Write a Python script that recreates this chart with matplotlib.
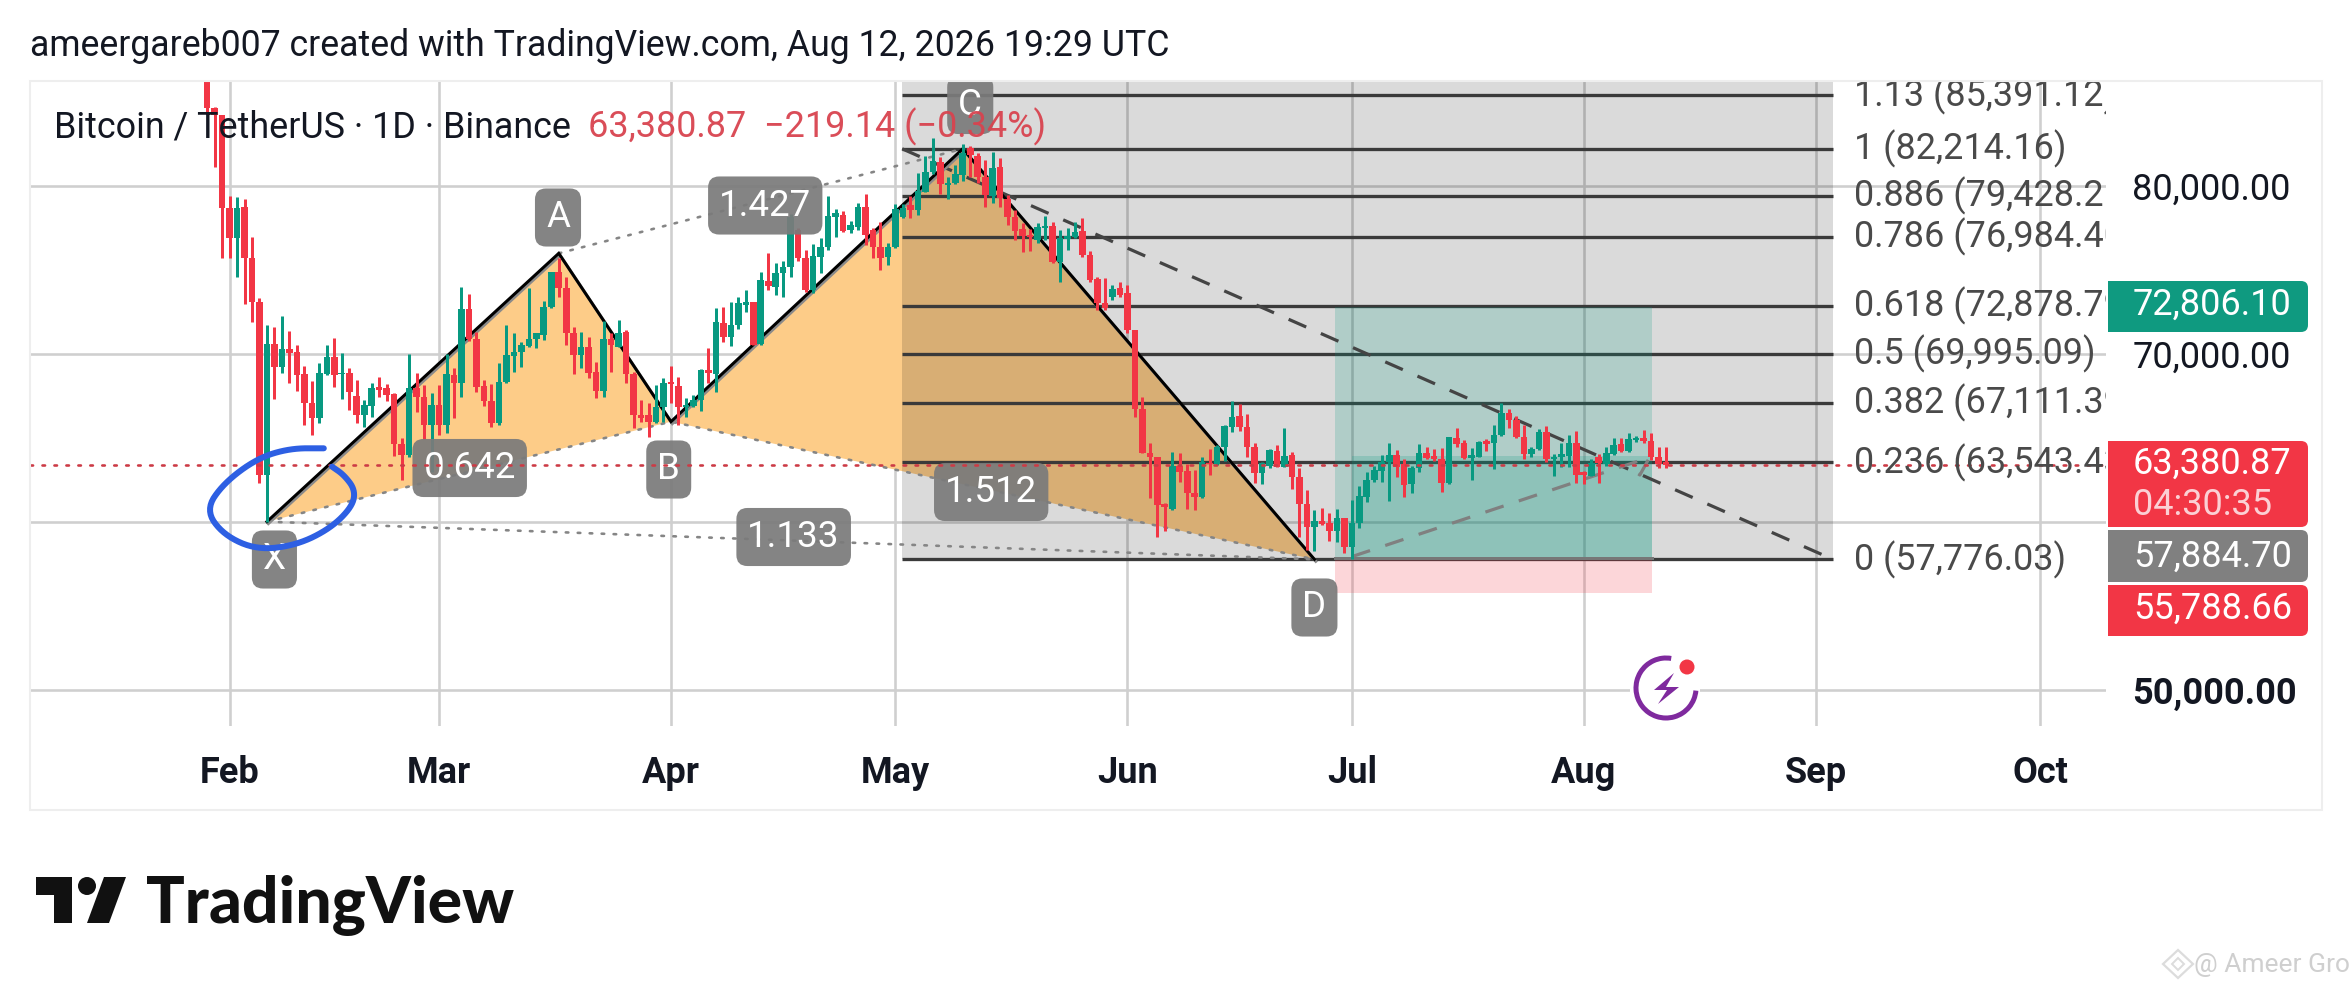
import matplotlib
matplotlib.use("Agg")
import matplotlib.pyplot as plt
import numpy as np
from matplotlib.patches import FancyBboxPatch, Rectangle, Polygon, Circle, Arc
from matplotlib.patheffects import SimpleLineShadow, Normal

plt.rcParams['font.family'] = ['Roboto', 'DejaVu Sans']

# ---- data: days counted from 1 Feb ----
days = list(range(-3, 193))
opens = [87500,84622,84226,78710,76924,78770,75734,73115,62798,70576,69246,70278,70139,68810,67064,66171,68810,69802,68810,68850,
67500,66370,66905,68016,67957,67619,64643,63989,67957,67421,65774,66965,65774,68750,68294,72659,70873,68096,67223,65874,
68354,69881,70139,70476,70873,71131,72778,74901,73909,71230,69941,70437,68949,67818,70873,70437,71330,68810,66370,66370,
65973,66866,68354,68096,66866,66905,67262,69048,68810,71865,71032,71726,72917,73115,70596,74365,74008,74802,75159,77381,
75695,73810,75794,76349,78174,78274,77381,77579,78730,77381,76389,75794,76349,78174,78869,78571,79663,80853,81448,80059,
80158,80654,82242,81785,80516,79404,81111,79206,78174,77421,77083,76786,77480,77619,75496,76825,76984,77341,75893,74445,
73016,73413,73909,73651,71429,66707,64088,63890,61072,60755,63334,63056,61707,61469,63533,63453,64445,65675,66310,65636,
64445,62897,63334,64247,63294,63989,62660,61072,59723,60080,59961,59485,60219,58533,59961,61509,62501,63056,63592,63989,
63453,62262,63195,64128,63929,63731,62302,64981,64723,63790,63890,64822,64683,65179,66508,66072,65040,64048,64326,65377,
63731,63890,63929,64723,62997,62739,63890,63453,64048,64643,64247,64881,64981,64842,63890,63600]
highs = [88000,84722,84226,79404,79325,79206,76984,73314,71726,71627,72262,71389,70536,69286,68393,69445,70536,70933,70080,69187,
68453,67262,68294,68651,68215,67699,64981,70000,68850,68155,67699,68155,70000,69187,74008,73552,71330,68453,68215,69484,
71726,71270,70734,73909,71270,73175,74901,75695,74603,71588,71330,70992,69544,71984,71230,72024,71429,68949,67262,67104,
68155,68552,69286,68651,67362,67560,69088,70338,72718,72818,73115,73413,73810,73115,74901,75992,75436,75556,78333,77480,
76190,76548,76885,79424,78611,78532,77936,78968,79524,77480,77877,76627,78928,78928,79404,80754,81785,82837,81706,80516,
81250,82500,82381,81944,81547,82043,81646,79464,78571,77778,77421,77817,78214,77877,77381,77480,77877,78075,76151,74564,
74504,74108,74306,74108,71429,67461,64722,63890,61112,64187,64128,63453,63096,63890,64326,64584,65774,67223,67024,66429,
64723,63592,64326,64584,65576,64187,63195,61905,60715,60815,60517,60755,60219,61310,62144,62997,63334,63989,64683,64286,
63731,63334,64643,64485,64326,64386,65080,65576,64881,64386,64822,64921,65774,67064,66707,66310,65774,64445,65516,65715,
64048,64683,65179,65437,63056,63731,64048,64485,64981,64981,65318,65120,65476,65318,64445,64445]
lows = [84400,81150,75734,75734,74603,72957,71925,62342,60021,67302,68889,68294,67818,65774,65179,65874,68750,68016,67302,66667,
65874,65636,66270,67461,67223,63929,62501,63890,66568,64921,62997,65179,65278,66171,67421,70794,67758,66905,65636,65774,
68294,68949,69207,70437,70338,70834,72718,73413,70536,68810,69147,68552,67362,67461,68949,70397,68254,65576,65973,65080,
65874,65973,67064,65774,66270,66866,66628,68254,67758,70734,70476,71468,72520,70536,70536,73810,73512,73373,74564,75556,
73710,73651,74841,76190,76984,77282,77183,77381,76488,75695,75000,75298,76290,78075,78075,78274,79663,80714,79524,79206,
80119,80317,80555,80158,78770,78968,78770,77678,76786,76091,76151,76587,76786,75397,74306,76190,76885,75794,74306,72619,
72619,73214,73413,71230,66230,64088,61409,59128,59485,60715,62401,60755,60715,61409,62798,63394,63651,65377,65437,63850,
62302,62262,63195,63255,63255,61945,59088,58334,58295,59822,58890,58830,58176,57778,59624,61211,62402,62402,61271,62699,
61509,61707,62997,63731,63652,61806,62262,64445,63731,62501,63850,64247,63136,65120,65576,64981,63731,63850,64286,63592,
62739,63255,63294,62302,62262,62739,62302,63334,63989,64187,64187,64782,64683,63691,63195,63195]
closes = [84622,84226,78710,76924,78710,75734,73115,62798,70576,69246,70278,70080,68750,67064,66171,68889,69802,68750,68889,67758,
66370,66965,67957,67858,67560,64643,63989,67957,67421,65774,66965,65774,68810,68294,72659,70873,68056,67223,65874,68354,
69941,70139,70536,70873,71230,72778,74901,73909,71230,69941,70437,68889,67818,70873,70536,71270,68810,66370,66171,65973,
66826,68294,68215,66866,66965,67262,69048,68889,71925,71032,71726,73016,73115,70536,74405,74048,74841,75159,78174,75695,
73810,75833,76389,78214,78373,77341,77678,78730,77083,76389,75695,76389,78611,78671,78571,79722,80853,81508,80119,80198,
80714,81944,81845,80516,79464,81051,79266,78174,77341,77024,76984,77579,77619,75496,76885,77024,77282,75893,74405,73016,
72718,73849,73512,71429,66707,64088,63850,61013,60913,63334,62997,61707,61469,63592,63453,64445,65715,66270,65636,64445,
62897,63533,64286,63294,63929,62660,61072,59723,60080,59882,59485,60219,58533,59961,61548,62501,63096,63592,63989,63294,
62203,63195,64128,63790,63731,62302,65040,64643,63790,63989,64782,64643,65179,66508,66072,65040,64048,64326,65377,63731,
63850,64029,64683,62798,62798,63533,63533,64088,64584,64247,64921,64981,64842,63850,63453,63380.87]

month_days = [0, 28, 59, 89, 120, 150, 181, 212, 242]
month_labels = ['Feb', 'Mar', 'Apr', 'May', 'Jun', 'Jul', 'Aug', 'Sep', 'Oct']
price_ticks = [50000, 60000, 70000, 80000]
price_tick_labels = ['50,000.00', '', '70,000.00', '80,000.00']

pattern_days = [5, 44, 59, 98, 145]          # X A B C D
pattern_prices = [60021, 75992, 65973, 82214, 57776]

fib_levels = ['1.13', '1', '0.886', '0.786', '0.618', '0.5', '0.382', '0.236', '0']
fib_prices = [85391.12, 82214.16, 79428.21, 76984.40, 72878.79, 69995.09, 67111.39, 63543.43, 57776.03]
fib_start, fib_end, fib_label_day = 89.9, 214.3, 217.1

last_price = 63380.87
entry, target, stop = 57884.70, 72806.10, 55788.66
pos_start, pos_end, pos_live_start = 147.75, 190.1, 150
pos_live_top = 63929
pos_dash_days = [150, 189.8, 188.5, 186.7]
pos_dash_prices = [57938, 63850, 62798, 63334]

tag_names = ['A', 'X', 'B', 'C', 'D', '1.427', '0.642', '1.512', '1.133']
tag_days = [43.9, 6.0, 58.7, 99, 145, 71.6, 32.1, 101.8, 75.4]
tag_prices = [78125, 57768, 63125, 84821, 54911, 78839, 63214, 61786, 59107]

ring_days = [12.6, 8.1, 3.7, -0.8, -3.2, -0.8, 3.7, 9.0, 13.5, 16.4, 16.8, 15.3, 13.7]
ring_prices = [64386, 64386, 63790, 62302, 60715, 59225, 58332, 58630, 59623, 60914, 61906, 62798, 63294]

GREEN, RED = '#089981', '#F23645'
W, H = 2352, 990
px = 72 / 100

fig = plt.figure(figsize=(W / 100, H / 100), dpi=100, facecolor='white')
L, R, T, B = 30, 2106, 81, 726
ax = fig.add_axes([L / W, 1 - B / H, (R - L) / W, (B - T) / H])
ax.set_xlim(-26.67, 250.8)
ax.set_ylim(47857, 86250)
for s in ax.spines.values():
    s.set_visible(False)
ax.set_xticks(month_days, month_labels)
ax.set_yticks(price_ticks, price_tick_labels)
ax.yaxis.tick_right()
ax.tick_params(axis='both', length=0)
ax.tick_params(axis='x', pad=21, labelsize=26)
ax.tick_params(axis='y', pad=19, labelsize=26)
for t in ax.get_xticklabels():
    t.set_fontweight('bold')
    t.set_color('#131722')
for t in ax.get_yticklabels():
    t.set_color('#131722')
ax.get_yticklabels()[0].set_fontweight('bold')
ax.grid(True, color='#cfcfcf', lw=2.6 * px, zorder=1)
ax.set_axisbelow(True)

# harmonic pattern fills
pd_ = pattern_days
pp = pattern_prices
ax.add_patch(Polygon([(pd_[0], pp[0]), (pd_[1], pp[1]), (pd_[2], pp[2])], closed=True, fc='#FDCC88', ec='none', zorder=2))
ax.add_patch(Polygon([(pd_[2], pp[2]), (pd_[3], pp[3]), (pd_[4], pp[4])], closed=True, fc='#FDCC88', ec='none', zorder=2))

# fib region
ax.add_patch(Rectangle((fib_start, fib_prices[-1]), fib_end - fib_start, 86250 - fib_prices[-1], fc='black', alpha=0.145, ec='none', zorder=3))
ax.hlines(fib_prices, fib_start, fib_end, color='#3a3a3a', lw=3.3 * px, zorder=3.5)
for lev, p in zip(fib_levels, fib_prices):
    ax.text(fib_label_day, p, f'{lev} ({p:,.2f})', color='#4a4a4a', fontsize=25.9, va='center', ha='left', clip_on=True, zorder=8)

# position tool
ax.add_patch(Rectangle((pos_start, entry), pos_end - pos_start, target - entry, fc='#089981', alpha=0.2, ec='none', zorder=3.6))
ax.add_patch(Rectangle((pos_start, stop), pos_end - pos_start, entry - stop, fc='#F23645', alpha=0.2, ec='none', zorder=3.6))
ax.add_patch(Rectangle((pos_live_start, entry), pos_end - pos_live_start, pos_live_top - entry, fc='#089981', alpha=0.2, ec='none', zorder=3.6))
ax.plot([pos_start, pos_end], [entry, entry], color='#777777', lw=3 * px, zorder=3.7)

# dashed lines
ax.plot([fib_start, fib_end], [fib_prices[1], fib_prices[-1]], color='#444444', lw=3.2 * px, ls=(0, (6, 5)), zorder=3.8)
ax.plot(pos_dash_days, pos_dash_prices, color='#808080', lw=3.2 * px, ls=(0, (6, 5)), zorder=3.8)

# dotted pattern lines
dot = dict(color='#858585', lw=2.6 * px, ls=(0, (1, 3.6)), dash_capstyle='round', zorder=4)
ax.plot([pd_[0], pd_[2], pd_[4]], [pp[0], pp[2], pp[4]], **dot)
ax.plot([pd_[1], pd_[3]], [pp[1], pp[3]], **dot)
ax.plot([pd_[0], pd_[4]], [pp[0], pp[4]], **dot)

# solid pattern legs
ax.plot(pd_, pp, color='black', lw=3 * px, zorder=4.2, solid_joinstyle='miter',
        path_effects=[SimpleLineShadow(offset=(1.0, -1.4), shadow_color='#8a8a8a', alpha=1), Normal()])

# candles
o, h, l, c = map(np.array, (opens, highs, lows, closes))
colors = np.where(c >= o, GREEN, RED)
ax.vlines(days, l, h, colors=colors, lw=3 * px, zorder=5)
ax.bar(days, np.abs(c - o), bottom=np.minimum(o, c), width=0.88, color=colors, lw=0, zorder=5.1)

# pattern tags
for name, d, p in zip(tag_names, tag_days, tag_prices):
    ax.text(d, p, name, color='white', fontsize=26.5, ha='center', va='center', zorder=6, clip_on=True,
            bbox=dict(boxstyle='round,pad=0.3,rounding_size=0.3', fc='#7b7b7b', ec='none', alpha=0.93))

# last-price line
ax.axhline(last_price, color='#cc3b46', lw=2.6 * px, ls=(0, (1, 3.6)), dash_capstyle='round', zorder=7)

# hand-drawn ring
pts = np.column_stack([ring_days, ring_prices])
for _ in range(3):
    q = 0.75 * pts[:-1] + 0.25 * pts[1:]
    r = 0.25 * pts[:-1] + 0.75 * pts[1:]
    pts = np.vstack([pts[0], np.column_stack([q, r]).reshape(-1, 2), pts[-1]])
ax.plot(pts[:, 0], pts[:, 1], color='#2d5fe3', lw=6 * px, solid_capstyle='round', zorder=7.5, clip_on=False)

# overlay in pixels: frame, header, tags, logo
ov = fig.add_axes([0, 0, 1, 1], zorder=10)
ov.set_xlim(0, W)
ov.set_ylim(H, 0)
ov.axis('off')
ov.patch.set_alpha(0)
ov.add_patch(Rectangle((30, 81), 2292, 729, fc='none', ec='#eeeeee', lw=1.5))
ov.text(30, 46, 'ameergareb007 created with TradingView.com, Aug 12, 2026 19:29 UTC', fontsize=25.7, color='#131722', va='center')
ov.text(54, 127, 'Bitcoin / TetherUS · 1D · Binance', fontsize=25.8, color='#131722', va='center')
ov.text(588, 127, '63,380.87  −219.14 (−0.34%)', fontsize=25.9, color='#d8434f', alpha=0.95, va='center')


def tag(y0, y1, fc, lines):
    ov.add_patch(FancyBboxPatch((2115, y0), 193, y1 - y0, boxstyle='round,pad=0,rounding_size=7', fc=fc, ec='none'))
    ov.add_patch(Rectangle((2108, y0), 20, y1 - y0, fc=fc, ec='none'))
    for text, yy, col in lines:
        ov.text(2133, yy, text, fontsize=26, color=col, va='center', ha='left')


tag(281, 332, '#0f9a80', [('72,806.10', 305, 'white')])
tag(441, 527, RED, [('63,380.87', 464, 'white'), ('04:30:35', 505, '#fbd0d4')])
tag(530, 582, '#808080', [('57,884.70', 557, 'white')])
tag(585, 636, RED, [('55,788.66', 609, 'white')])

# lightning badge
ov.add_patch(Rectangle((1630, 686), 70, 6, fc='white', ec='none'))
ov.add_patch(Arc((1666, 688), 60, 60, theta1=5, theta2=280, ec='#7f2a9e', lw=5 * px))
ov.add_patch(Polygon([(1674, 673), (1654, 690), (1667, 690), (1658, 704), (1679, 687), (1666, 687)], closed=True, fc='#7f2a9e', ec='none'))
ov.add_patch(Circle((1687, 667), 7.5, fc=RED, ec='none'))

# TradingView logo
ov.add_patch(Polygon([(36, 877), (72, 877), (72, 923), (54, 923), (54, 895), (36, 895)], closed=True, fc='#111111', ec='none'))
ov.add_patch(Circle((87, 886), 9, fc='#111111', ec='none'))
ov.add_patch(Polygon([(104, 877), (126, 877), (109, 923), (87, 923)], closed=True, fc='#111111', ec='none'))
ov.text(146, 905, 'TradingView', fontsize=46.3, fontweight='black', family='Lato', color='#111111', va='center')

# watermark
ov.add_patch(Polygon([(2178, 950), (2193, 964), (2178, 978), (2163, 964)], closed=True, fc='none', ec='#dcdcdc', lw=1.6))
ov.add_patch(Polygon([(2178, 958), (2184, 964), (2178, 970), (2172, 964)], closed=True, fc='none', ec='#dcdcdc', lw=1.4))
ov.text(2350, 965, '@ Ameer Gro', fontsize=19, color='#cfcfcf', va='center', ha='right')

fig.savefig('out.png', dpi=100, facecolor='white')
